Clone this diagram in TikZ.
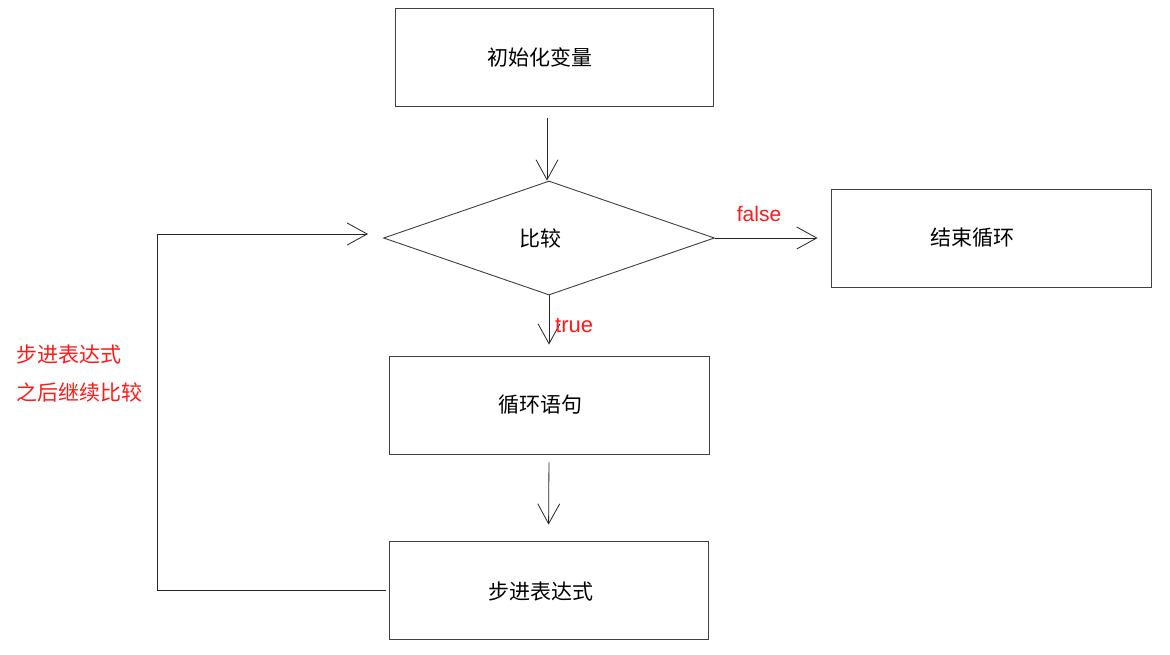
\documentclass[tikz,border=0pt]{standalone}
\usepackage{fontspec}
\newfontfamily\cjk{Noto Sans CJK SC}
\newfontfamily\lat{Liberation Sans}
\usetikzlibrary{shapes.geometric,arrows.meta}
\begin{document}
\begin{tikzpicture}[x=1pt,y=-1pt,
  every node/.style={font=\cjk\fontsize{21pt}{25pt}\selectfont},
  boxn/.style={draw=black!75,line width=0.9pt,rectangle,minimum width=318pt,minimum height=98pt,inner sep=0pt},
  dia/.style={draw=black!75,line width=0.9pt,diamond,minimum width=331pt,minimum height=114pt,inner sep=0pt},
  conn/.style={draw=black!85,line width=0.8pt,-{Straight Barb[length=20pt,width=22pt,line width=0.8pt]}},
  txt/.style={inner sep=0pt},
  redlab/.style={text=red!90!white,inner sep=0pt},
  redlat/.style={redlab,font=\lat\fontsize{21pt}{25pt}\selectfont},
  redcjk/.style={redlab,font=\cjk\fontsize{21pt}{25pt}\selectfont}
]
\useasboundingbox (0,0) rectangle (1170,654);
\fill[white] (0,0) rectangle (1170,654);
\node[boxn] (init) at (554,57) {};
\node[dia] (cmp) at (549,238) {};
\node[boxn,minimum width=320pt] (fin) at (991,238) {};
\node[boxn,minimum width=320pt] (body) at (549,405) {};
\node[boxn,minimum width=319pt] (stepx) at (548.5,590) {};

\node[txt] (t1) at ([xshift=-14pt]init.center) {初始化变量};
\node[txt] (t2) at ([xshift=-9pt]cmp.center) {比较};
\node[txt] (t3) at ([xshift=-19pt]fin.center) {结束循环};
\node[txt] (t4) at ([xshift=-9pt]body.center) {循环语句};
\node[txt] (t5) at ([xshift=-8pt,yshift=-2pt]stepx.center) {步进表达式};

\coordinate (a1s) at (547,118);
\coordinate (lb) at (157,590);
\coordinate (lt) at (157,234);
\coordinate (ltip) at (368,234);

\draw[conn] (a1s) -- (a1s |- cmp.north);
\draw[conn,shorten >=13pt] (cmp.east) -- (fin.west);
\draw[conn,shorten >=11pt] (cmp.south) -- (body.north);
\draw[conn,shorten <=8pt,shorten >=16pt] (body.south) -- (stepx.north);
\draw[draw=black!85,line width=0.8pt,shorten <=3pt] (stepx.west) -- (lb) -- (lt);
\draw[conn] (lt) -- (ltip);

\node[redlat,anchor=base] (lf) at (759,221) {false};
\node[redlat,anchor=base west,font=\lat\fontsize{22pt}{25pt}\selectfont] (lt2) at (555,332) {true};
\node[redcjk,anchor=west] (l1) at (16,355) {步进表达式};
\node[redcjk,anchor=west] (l2) at (16,392) {之后继续比较};
\end{tikzpicture}
\end{document}
